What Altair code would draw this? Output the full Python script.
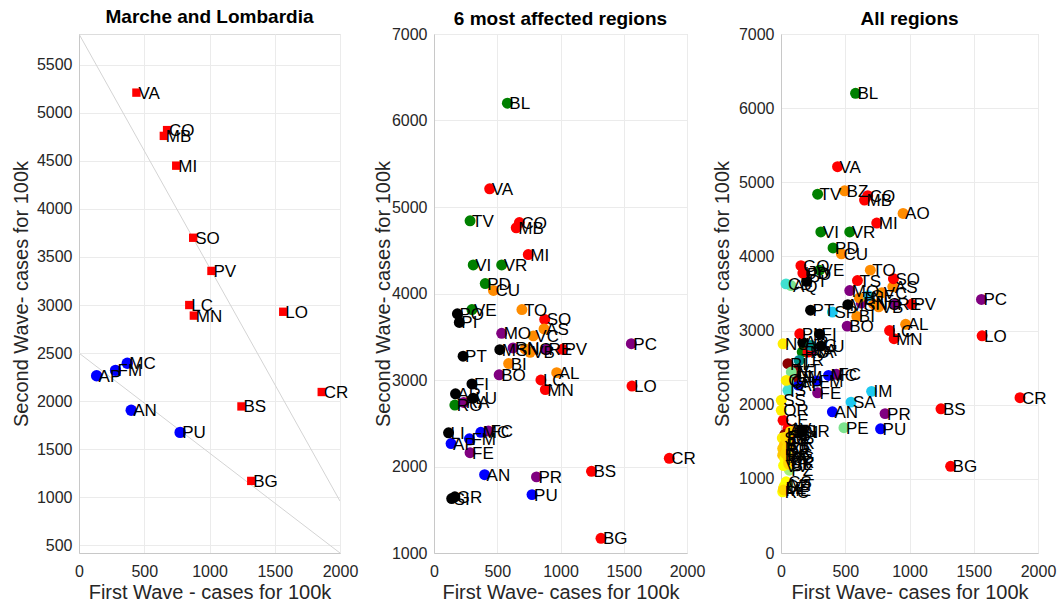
import altair as alt
import pandas as pd

# ---------------- data ----------------
lom_codes = ["VA", "CO", "MB", "MI", "SO", "PV", "LC", "MN", "LO", "CR", "BS", "BG"]
lom_x = [440, 675, 650, 745, 875, 1015, 845, 880, 1565, 1860, 1245, 1320]
lom_y = [5210, 4820, 4760, 4450, 3700, 3355, 3000, 2890, 2930, 2095, 1945, 1170]

mar_codes = ["MC", "FM", "AP", "AN", "PU"]
mar_x = [370, 280, 135, 400, 775]
mar_y = [2395, 2320, 2265, 1905, 1675]

pie_codes = ["CU", "TO", "AS", "VC", "NO", "VB", "BI", "AL"]
pie_x = [470, 695, 870, 785, 720, 760, 590, 970]
pie_y = [4035, 3815, 3590, 3510, 3360, 3320, 3190, 3085]

ven_codes = ["BL", "TV", "VI", "VR", "PD", "VE", "RO"]
ven_x = [580, 285, 310, 535, 405, 300, 165]
ven_y = [6200, 4840, 4330, 4330, 4115, 3815, 2710]

er_codes = ["PC", "MO", "RE", "RN", "BO", "RA", "FC", "FE", "PR"]
er_x = [1560, 535, 890, 625, 515, 235, 430, 285, 810]
er_y = [3420, 3540, 3355, 3370, 3060, 2740, 2410, 2160, 1880]

tos_codes = ["PO", "PI", "MS", "PT", "FI", "AR", "LU", "LI", "GR", "SI"]
tos_x = [185, 200, 520, 230, 300, 170, 310, 115, 165, 140]
tos_y = [3765, 3665, 3350, 3275, 2955, 2840, 2790, 2390, 1650, 1630]

oth_codes = ["AO", "BZ", "TN",
             "GO", "UD", "TS", "PN",
             "NA", "CE", "AV", "BN",
             "IM", "SA", "GE", "SP",
             "PG", "TR",
             "RI", "VT", "RM", "LT", "FR",
             "AQ", "TE", "CH", "PE",
             "CB", "IS",
             "NU", "CA", "SS", "OR", "SU",
             "FG", "BA", "TA", "BR", "LE", "BT",
             "PZ", "MT",
             "CS", "CZ", "RC", "KR", "VV",
             "TP", "PA", "ME", "AG", "CL", "EN", "CT", "RG", "SR"]
oth_x = [950, 495, 610,
         155, 170, 595, 146,
         210, 16, 54, 91,
         705, 545, 680, 400,
         233, 142,
         54, 120, 100, 30, 70,
         78, 80, 60, 490,
         39, 54,
         16, 41, 2, 2, 10,
         13, 13, 39, 30, 20, 25,
         65, 52,
         40, 25, 13, 30, 20,
         45, 35, 20, 55, 60, 75, 50, 35, 60]
oth_y = [4580, 4885, 3440,
         3875, 3775, 3675, 2957,
         2710, 1790, 1678, 1633,
         2180, 2035, 3470, 3250,
         2800, 2597,
         2553, 2470, 2380, 1600, 1480,
         3607, 2440, 2300, 1690,
         3630, 2194,
         2822, 2328, 2059, 1925, 1550,
         1409, 1319, 1229, 1380, 870, 1450,
         1117, 915,
         960, 900, 825, 1270, 1180,
         1520, 1560, 850, 1300, 1200, 1640, 1420, 1340, 1230]
oth_col = ["#ff8c00", "#ff8c00", "#ff8c00",
           "#ff0000", "#ff0000", "#ff0000", "#ff0000",
           "#ff0000", "#ff0000", "#ff0000", "#ff0000",
           "#1ec8f0", "#1ec8f0", "#1ec8f0", "#1ec8f0",
           "#008b8b", "#008b8b",
           "#8b0000", "#8b0000", "#8b0000", "#8b0000", "#8b0000",
           "#7de38f", "#7de38f", "#7de38f", "#7de38f",
           "#40e0d0", "#40e0d0",
           "#ffee00", "#ffee00", "#ffee00", "#ffee00", "#ffee00",
           "#ffc800", "#ffc800", "#ffc800", "#ffc800", "#ffc800", "#ffc800",
           "#a6f07a", "#a6f07a",
           "#ffff00", "#ffff00", "#ffff00", "#ffff00", "#ffff00",
           "#ffd700", "#ffd700", "#ffd700", "#ffd700", "#ffd700", "#ffd700", "#ffd700", "#ffd700", "#ffd700"]

line_x = [0, 2000]
line1_y = [5820, 960]
line2_y = [2500, 420]

# ---------------- tables ----------------
def group(codes, xs, ys, col):
    return pd.DataFrame({"code": codes, "x": xs, "y": ys, "col": col})

lom = group(lom_codes, lom_x, lom_y, "#ff0000")
mar = group(mar_codes, mar_x, mar_y, "#0000ff")
pie = group(pie_codes, pie_x, pie_y, "#ff8c00")
ven = group(ven_codes, ven_x, ven_y, "#008000")
er = group(er_codes, er_x, er_y, "#800080")
tos = group(tos_codes, tos_x, tos_y, "#000000")
oth = pd.DataFrame({"code": oth_codes, "x": oth_x, "y": oth_y, "col": oth_col})

mid_df = pd.concat([lom, pie, ven, er, tos, mar], ignore_index=True)
all_df = pd.concat([pie, lom, ven, er, tos, mar, oth], ignore_index=True)

lines_df = pd.DataFrame({
    "x": line_x + line_x,
    "y": line1_y + line2_y,
    "k": ["a", "a", "b", "b"],
})

FONT = "Liberation Sans"
TXT = "#262626"


def xaxis(title):
    return alt.Axis(values=[0, 500, 1000, 1500, 2000], title=title, grid=True, format="d",
                    gridColor="#ebebeb", domainColor="#c8c8c8", ticks=False,
                    labelFontSize=16, labelColor=TXT, labelPadding=10, labelFont=FONT,
                    titleFontSize=20, titleFontWeight="normal", titleColor=TXT,
                    titleFont=FONT, titlePadding=3, labelFlush=False)


def yaxis(vals, tx):
    return alt.Axis(values=vals, title="Second Wave- cases for 100k", grid=True, format="d",
                    gridColor="#ebebeb", domainColor="#c8c8c8", ticks=False,
                    labelFontSize=16, labelColor=TXT, labelPadding=7, labelFont=FONT,
                    titleFontSize=20, titleFontWeight="normal", titleColor=TXT,
                    titleFont=FONT, titleX=tx, labelFlush=False)


def title(t, off):
    return alt.TitleParams(t, fontSize=19, fontWeight="bold", font=FONT, color="#000000",
                           offset=off)


def enc(xs, ys, xa, ya):
    return dict(x=alt.X("x:Q", scale=xs, axis=xa), y=alt.Y("y:Q", scale=ys, axis=ya))


xs = alt.Scale(domain=[0, 2000], nice=False, zero=False)

# ---------------- left panel ----------------
ys_l = alt.Scale(domain=[420, 5820], nice=False, zero=False)
xa_l = xaxis("First Wave - cases for 100k")
ya_l = yaxis(list(range(500, 5501, 500)), -48)

left_lines = alt.Chart(lines_df).mark_line(color="#d4d4d4", strokeWidth=1, clip=True).encode(
    detail="k:N", **enc(xs, ys_l, xa_l, ya_l))
left_sq = alt.Chart(lom).mark_square(size=70, opacity=1, color="#ff0000").encode(
    **enc(xs, ys_l, xa_l, ya_l))
left_ci = alt.Chart(mar).mark_circle(size=130, opacity=1, color="#0000ff").encode(
    **enc(xs, ys_l, xa_l, ya_l))
left_txt = alt.Chart(pd.concat([lom, mar], ignore_index=True)).mark_text(
    align="left", baseline="middle", dx=2, dy=1, fontSize=17, font=FONT, color="#000000").encode(
    text="code:N", **enc(xs, ys_l, xa_l, ya_l))

left = alt.layer(left_lines, left_sq, left_ci, left_txt).properties(
    width=261, height=519, title=title("Marche and Lombardia", 7))


def panel(df, ys, xa, ya, t, w):
    pts = alt.Chart(df).mark_circle(size=120, opacity=1).encode(
        color=alt.Color("col:N", scale=None), **enc(xs, ys, xa, ya))
    txt = alt.Chart(df).mark_text(align="left", baseline="middle", dx=2, dy=1,
                                  fontSize=17, font=FONT, color="#000000").encode(
        text="code:N", **enc(xs, ys, xa, ya))
    return alt.layer(pts, txt).properties(width=w, height=519, title=title(t, -3))


# ---------------- middle panel ----------------
ys_m = alt.Scale(domain=[1000, 7000], nice=False, zero=False)
mid = panel(mid_df, ys_m, xaxis("First Wave- cases for 100k"),
            yaxis(list(range(1000, 7001, 1000)), -41), "6 most affected regions", 253)

# ---------------- right panel ----------------
ys_r = alt.Scale(domain=[0, 7000], nice=False, zero=False)
right = panel(all_df, ys_r, xaxis("First Wave- cases for 100k"),
              yaxis(list(range(0, 7001, 1000)), -49), "All regions", 257)

chart = alt.hconcat(left, mid, right, spacing=94, bounds="flush").resolve_scale(
    x="independent", y="independent").properties(
    padding={"left": 10, "top": 7, "right": 0, "bottom": 0}
).configure_view(strokeWidth=0).configure(background="white")

chart.save("out.html", embed_options={"renderer": "svg", "actions": False})
